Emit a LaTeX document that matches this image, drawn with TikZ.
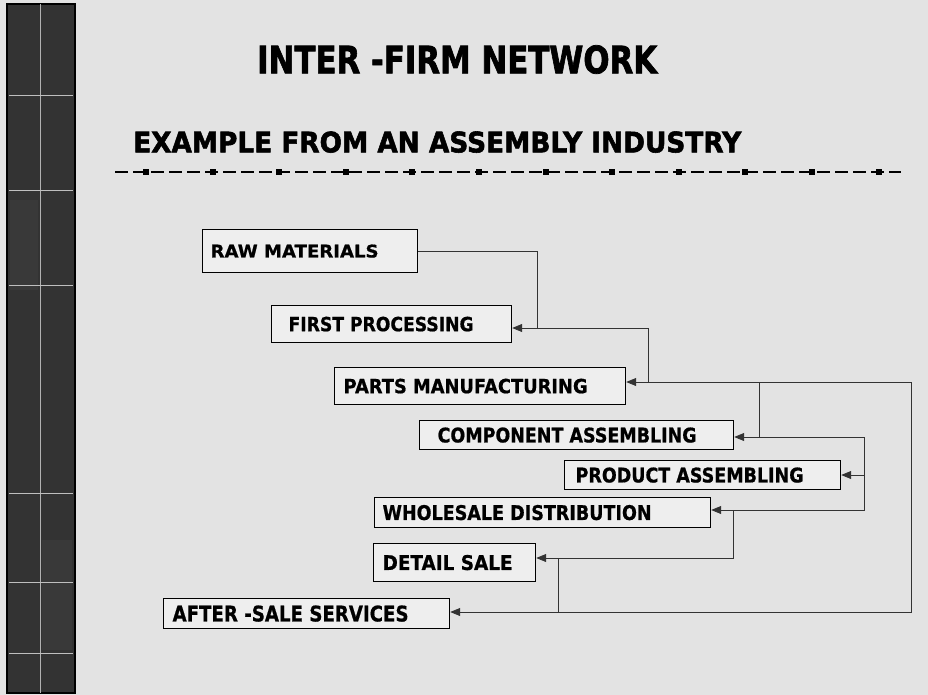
\documentclass[tikz,border=0pt]{standalone}
\usepackage{fontspec}
\setmainfont{DejaVu Sans}
\newfontfamily\heavyfont[BoldFeatures={FakeBold=2}]{DejaVu Sans}
\newfontfamily\labelfont[BoldFeatures={FakeBold=0.8}]{DejaVu Sans}
\usepackage{graphicx}
\usetikzlibrary{arrows.meta}
\newcommand\fittext[3]{\resizebox{#1pt}{#2pt}{\labelfont\bfseries #3}}
\newcommand\fithead[3]{\resizebox{#1pt}{#2pt}{\heavyfont\bfseries #3}}
\definecolor{bgcol}{gray}{0.89}
\definecolor{barcol}{gray}{0.20}
\begin{document}
\begin{tikzpicture}[x=1pt,y=-1pt,
  box/.style={draw=black, line width=1.2pt, inner sep=0pt, anchor=north west, fill=bgcol!60!white},
  conn/.style={draw=black!80, line width=0.8pt},
  arr/.style={conn, arrows={-Triangle[length=10pt,width=8pt]}},
  heading/.style={inner sep=0pt, anchor=south west}]
% background and page size
\fill[bgcol] (0,0) rectangle (928,695);
\useasboundingbox (0,0) rectangle (928,695);
% left decorative bar
\fill[barcol] (7,4) rectangle (75,693);
\fill[gray!45!black] (10,200) rectangle (38,290);
\fill[gray!45!black] (42,540) rectangle (72,650);
\fill[gray!40!black] (10,20) rectangle (38,80);
\draw[black, line width=1.5pt] (7,4) rectangle (75,693);
\draw[gray!60, line width=0.8pt] (40,4) -- (40,693);
\foreach \yy in {95,190,285,493,582,653}{\draw[gray!50, line width=0.6pt] (9,\yy) -- (73,\yy);}
% headings
\node[heading] (title) at (257,74) {\fithead{400}{28}{INTER -FIRM NETWORK}};
\node[heading] (sub) at (133,153) {\fithead{608}{21}{EXAMPLE FROM AN ASSEMBLY INDUSTRY}};
% dashed rule with square markers
\draw[black, line width=1.3pt, dash pattern=on 13pt off 5pt] (115,172) -- (901,172);
\foreach \k in {0,...,11}{\fill[black] ({146+66.6*\k-3},169) rectangle ({146+66.6*\k+3},175);}
% boxes
\node[box, minimum height=43pt] (raw) at (202,229) {\hspace*{8pt}\fittext{168}{13}{RAW MATERIALS}\hspace*{39pt}};
\node[box, minimum height=37pt] (first) at (271,305) {\hspace*{17pt}\fittext{185}{14.5}{FIRST PROCESSING}\hspace*{38pt}};
\node[box, minimum height=37pt] (parts) at (334,367) {\hspace*{9pt}\fittext{244}{14.5}{PARTS MANUFACTURING}\hspace*{38pt}};
\node[box, minimum height=29pt] (comp) at (419,420) {\hspace*{18pt}\fittext{259}{15}{COMPONENT ASSEMBLING}\hspace*{37pt}};
\node[box, minimum height=29pt] (prod) at (564,460) {\hspace*{11pt}\fittext{228}{15}{PRODUCT ASSEMBLING}\hspace*{37pt}};
\node[box, minimum height=30pt] (whole) at (374,497) {\hspace*{8pt}\fittext{269}{15}{WHOLESALE DISTRIBUTION}\hspace*{59pt}};
\node[box, minimum height=38pt] (detail) at (373,543) {\hspace*{9pt}\fittext{130}{15}{DETAIL SALE}\hspace*{23pt}};
\node[box, minimum height=30pt] (after) at (163,598) {\hspace*{9pt}\fittext{236}{16}{AFTER -SALE SERVICES}\hspace*{41pt}};
% junction coordinates
\coordinate (j1) at (537,328);
\coordinate (j2) at (648,382);
\coordinate (c1) at (648,328);
\coordinate (r1) at (911,382);
\coordinate (r2) at (911,612);
\coordinate (v1) at (759,382);
\coordinate (v2) at (759,437);
\coordinate (c3) at (864,437);
\coordinate (c4) at (864,475);
\coordinate (c5) at (864,510);
\coordinate (d1) at (733,510);
\coordinate (d2) at (733,558);
\coordinate (e1) at (558,558);
\coordinate (e2) at (558,612);
% connectors
\draw[conn] (raw.east) -| (j1);
\draw[arr] (j2) -- (c1) -- (c1 -| first.east);
\draw[arr] (r1) -- (r1 -| parts.east);
\draw[arr] (r1) -- (r2) -- (r2 -| after.east);
\draw[conn] (v1) -- (v2);
\draw[arr] (c3) -- (c3 -| comp.east);
\draw[arr] (c4) -- (c4 -| prod.east);
\draw[arr] (c3) -- (c5) -- (c5 -| whole.east);
\draw[arr] (d1) -- (d2) -- (d2 -| detail.east);
\draw[conn] (e1) -- (e2);
\end{tikzpicture}
\end{document}
